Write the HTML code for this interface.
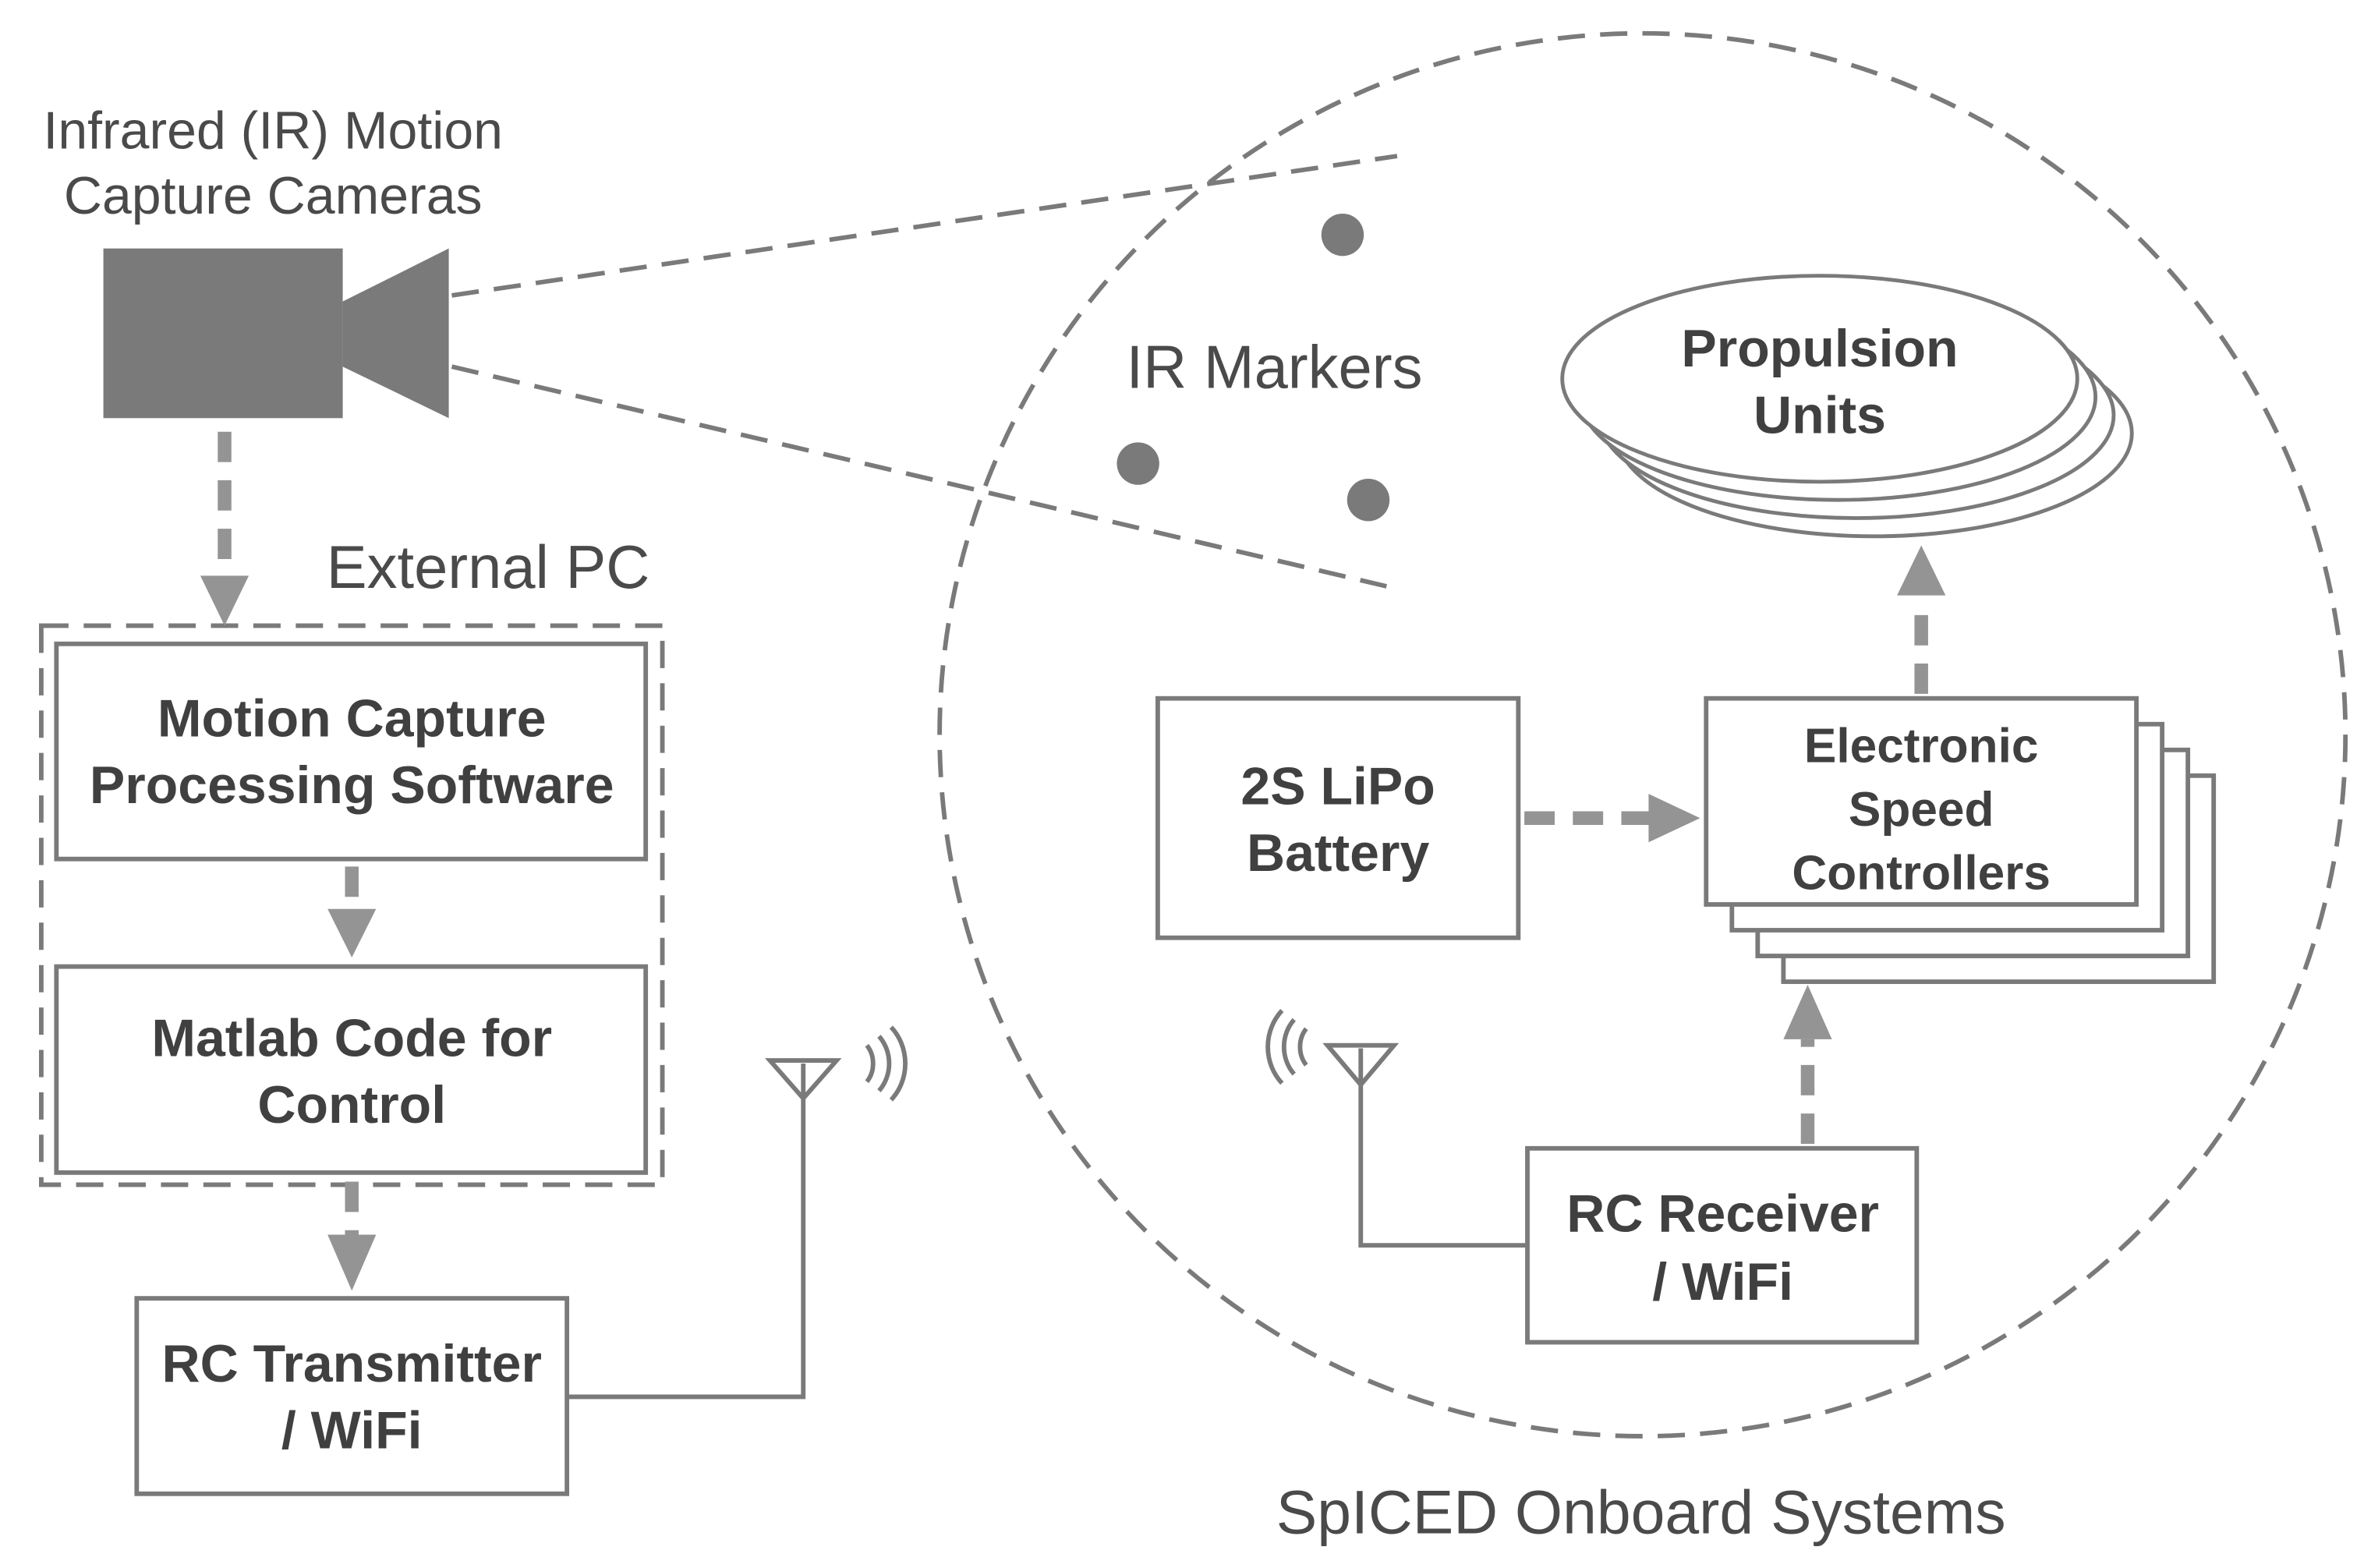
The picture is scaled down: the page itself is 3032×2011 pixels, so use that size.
<!DOCTYPE html>
<html><head><meta charset="utf-8"><style>html,body{margin:0;padding:0;background:#fff}svg{display:block}</style></head>
<body>
<svg width="3032" height="2011" viewBox="0 0 1560 1035" xmlns="http://www.w3.org/2000/svg" font-family="Liberation Sans, sans-serif">
<g fill="none" stroke="#7a7a7a" stroke-width="3" stroke-dasharray="18,10">
<ellipse cx="1084" cy="485" rx="464" ry="463"/>
<line x1="298" y1="195" x2="922" y2="103"/>
<line x1="298" y1="242" x2="915" y2="387"/>
<rect x="27" y="413" width="410" height="369"/>
</g>
<rect x="68" y="164" width="158" height="112" fill="#7a7a7a"/>
<polygon points="226,199 296,164 296,276 226,242" fill="#7a7a7a"/>
<g fill="#7a7a7a"><circle cx="886" cy="155" r="14"/><circle cx="751" cy="306" r="14"/><circle cx="903" cy="330" r="14"/></g>
<g fill="#4a4a4a" font-size="35" text-anchor="middle">
<text x="180" y="98">Infrared (IR) Motion</text>
<text x="180" y="141">Capture Cameras</text>
<text x="841" y="256" font-size="40">IR Markers</text>
<text x="322" y="388" font-size="40">External PC</text>
<text x="1083" y="1012" font-size="40.5">SpICED Onboard Systems</text>
</g>
<g stroke="#949494" stroke-width="9" stroke-dasharray="20,12" fill="none">
<line x1="148" y1="285" x2="148" y2="380"/>
<line x1="232" y1="572" x2="232" y2="602"/>
<line x1="232" y1="780" x2="232" y2="815"/>
<line x1="1006" y1="540" x2="1090" y2="540"/>
<line x1="1268" y1="458" x2="1268" y2="396"/>
<line x1="1193" y1="755" x2="1193" y2="686"/>
</g>
<g fill="#949494">
<polygon points="132,380 164,380 148,413"/>
<polygon points="216,600 248,600 232,632"/>
<polygon points="216,815 248,815 232,852"/>
<polygon points="1088,524 1088,556 1122,540"/>
<polygon points="1252,393 1284,393 1268,360"/>
<polygon points="1177,686 1209,686 1193,650"/>
</g>
<g fill="#fff" stroke="#7a7a7a" stroke-width="2.5">
<ellipse cx="1237" cy="286" rx="170" ry="68"/>
<ellipse cx="1225" cy="274" rx="170" ry="68"/>
<ellipse cx="1213" cy="262" rx="170" ry="68"/>
<ellipse cx="1201" cy="250" rx="170" ry="68"/>
</g>
<g fill="#fff" stroke="#7a7a7a" stroke-width="3">
<rect x="1177" y="512" width="284" height="136"/>
<rect x="1160" y="495" width="284" height="136"/>
<rect x="1143" y="478" width="284" height="136"/>
<rect x="1126" y="461" width="284" height="136"/>
<rect x="764" y="461" width="238" height="158"/>
<rect x="1008" y="758" width="257" height="128"/>
<rect x="37" y="425" width="389" height="142"/>
<rect x="37" y="638" width="389" height="136"/>
<rect x="90" y="857" width="284" height="129"/>
</g>
<g fill="none" stroke="#7a7a7a" stroke-width="3">
<polyline points="1008,822 898,822 898,692"/>
<polygon points="876,690 920,690 898,716"/>
<polyline points="374,922 530,922 530,702"/>
<polygon points="508,700 552,700 530,725"/>
<path d="M862,679 A16,18 0 0 0 862,703"/>
<path d="M854,673 A24,26 0 0 0 854,709"/>
<path d="M846,667 A32,34 0 0 0 846,715"/>
<path d="M572,690 A16,18 0 0 1 572,714"/>
<path d="M580,684 A24,26 0 0 1 580,720"/>
<path d="M588,678 A32,34 0 0 1 588,726"/>
</g>
<g fill="#404040" font-weight="bold" font-size="35" text-anchor="middle">
<text x="1201" y="242">Propulsion</text>
<text x="1201" y="286">Units</text>
<text x="1268" y="503" font-size="32">Electronic</text>
<text x="1268" y="545" font-size="32">Speed</text>
<text x="1268" y="587" font-size="32">Controllers</text>
<text x="883" y="531">2S LiPo</text>
<text x="883" y="575">Battery</text>
<text x="1137" y="813">RC Receiver</text>
<text x="1137" y="858">/ WiFi</text>
<text x="232" y="486">Motion Capture</text>
<text x="232" y="530">Processing Software</text>
<text x="232" y="697">Matlab Code for</text>
<text x="232" y="741">Control</text>
<text x="232" y="912">RC Transmitter</text>
<text x="232" y="956">/ WiFi</text>
</g>
</svg>
</body></html>
